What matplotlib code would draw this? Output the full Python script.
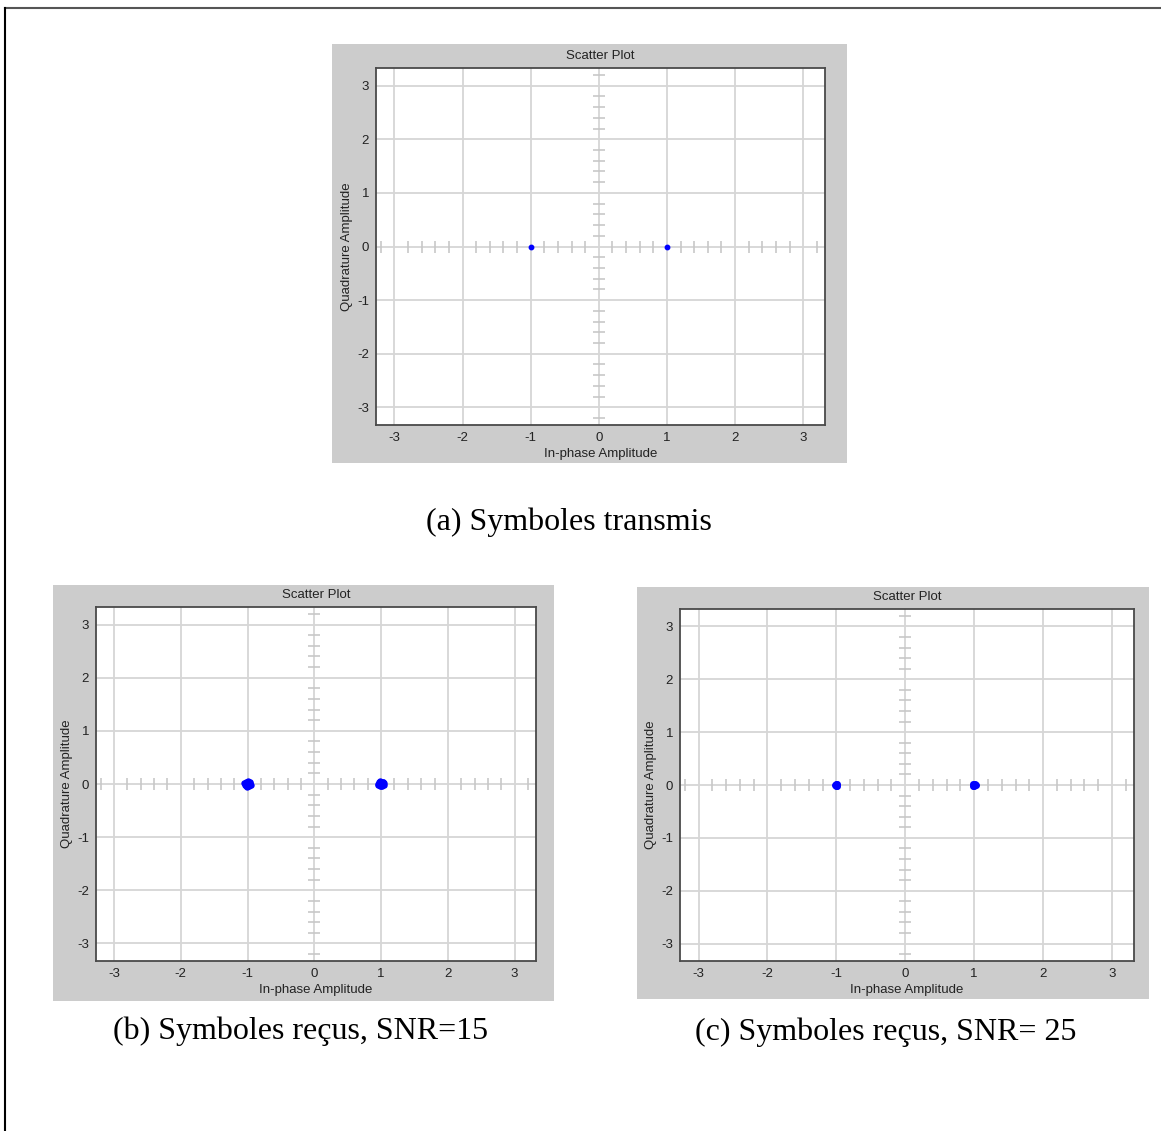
import matplotlib
matplotlib.use("Agg")
import matplotlib.pyplot as plt
from matplotlib.patches import Rectangle
from matplotlib.lines import Line2D

W, H = 1161, 1131

# Transmitted BPSK symbols
tx_i = [-1.0, 1.0]
tx_q = [0.0, 0.0]

# Received symbols, SNR = 15
rx15_i = [-1.03, -0.98, -1.01, -0.96, -1.04, -0.99, -1.02, -0.97, -1.00, -1.05,
          -0.98, -1.01, -0.95, -1.03, -1.00, -0.99, -1.02, -0.97,
          1.02, 0.97, 1.00, 1.04, 0.98, 1.01, 0.96, 1.03, 0.99, 1.05,
          0.98, 1.02, 0.97, 1.01, 1.00, 0.99, 1.03, 0.96]
rx15_q = [0.02, -0.03, 0.04, 0.01, -0.01, 0.05, -0.04, -0.02, 0.00, 0.02,
          0.03, -0.05, -0.01, 0.04, -0.03, 0.01, 0.00, 0.03,
          0.01, -0.02, 0.04, 0.02, -0.04, -0.01, 0.00, 0.03, 0.05, -0.02,
          0.02, -0.04, 0.03, 0.00, -0.03, 0.01, 0.04, -0.01]

# Received symbols, SNR = 25
rx25_i = [-1.01, -0.99, -1.00, -1.02, -0.99, -1.01, 1.00, 1.01, 0.99, 1.02, 1.00, 0.99]
rx25_q = [0.01, -0.01, 0.00, 0.00, 0.01, -0.01, 0.00, 0.01, -0.01, 0.00, -0.01, 0.01]

grid_ticks = [-3, -2, -1, 0, 1, 2, 3]
fine_ticks = [round(k * 0.2, 1) for k in range(-16, 17) if k % 5 != 0]

plt.rcParams['font.family'] = ['Liberation Sans', 'DejaVu Sans']

fig = plt.figure(figsize=(W / 100, H / 100), dpi=100)
fig.patch.set_facecolor('white')

FS = 9.5


def fbox(x0, y0, x1, y1):
    return [x0 / W, 1 - y1 / H, (x1 - x0) / W, (y1 - y0) / H]


def panel(bg, box, xi, xq, caption, cap_xy, ms):
    bx = fbox(*bg)
    fig.patches.append(Rectangle((bx[0], bx[1]), bx[2], bx[3],
                                 transform=fig.transFigure,
                                 facecolor='#cccccc', edgecolor='none', zorder=-10))
    ax = fig.add_axes(fbox(*box))
    ax.set_facecolor('white')
    ax.set_xlim(-3.27, 3.32)
    ax.set_ylim(-3.33, 3.33)
    ax.set_xticks(grid_ticks)
    ax.set_yticks(grid_ticks)
    ax.set_xticklabels([str(t) for t in grid_ticks])
    ax.set_yticklabels([str(t) for t in grid_ticks])
    ax.tick_params(length=0, labelsize=FS, labelcolor='#222222', pad=5)
    ax.grid(True, color='#d6d6d6', lw=1.3)
    ax.set_axisbelow(True)
    for s in ax.spines.values():
        s.set_color('#4a4a4a')
        s.set_linewidth(1.3)
    # crosshair fine ticks along the origin axes
    ax.plot(fine_ticks, [0] * len(fine_ticks), ls='none', marker='|',
            ms=8.6, mew=1.2, color='#c8c8c8', zorder=1)
    ax.plot([0] * len(fine_ticks), fine_ticks, ls='none', marker='_',
            ms=8.0, mew=1.2, color='#c8c8c8', zorder=1)
    ax.plot(xi, xq, ls='none', marker='o', ms=ms, color='#0000ff',
            mec='#0000ff', zorder=3)
    ax.set_title('Scatter Plot', fontsize=FS, color='#222222', pad=6.5)
    ax.set_xlabel('In-phase Amplitude', fontsize=FS, color='#222222', labelpad=3)
    ax.set_ylabel('Quadrature Amplitude', fontsize=FS, color='#222222', labelpad=3)
    fig.text(cap_xy[0] / W, 1 - cap_xy[1] / H, caption, ha='center', va='center',
             fontsize=23, family=['Liberation Serif', 'DejaVu Serif'], color='black')
    return ax


panel((332, 44, 847, 463), (376, 68, 825, 425), tx_i, tx_q,
      '(a) Symboles transmis', (569, 522), 3.2)
panel((53, 585, 554, 1001), (96, 607, 536, 961), rx15_i, rx15_q,
      '(b) Symboles reçus, SNR=15', (301, 1031), 3.6)
panel((637, 587, 1149, 999), (680, 609, 1134, 961), rx25_i, rx25_q,
      '(c) Symboles reçus, SNR= 25', (886, 1032), 4.0)

# page border (top and left)
fig.lines.append(Line2D([5 / W, 1], [1 - 8 / H, 1 - 8 / H], transform=fig.transFigure,
                        color='#555555', lw=1.5))
fig.lines.append(Line2D([5 / W, 5 / W], [1 - 8 / H, 0], transform=fig.transFigure,
                        color='black', lw=1.5))

fig.savefig('out.png', dpi=100)
